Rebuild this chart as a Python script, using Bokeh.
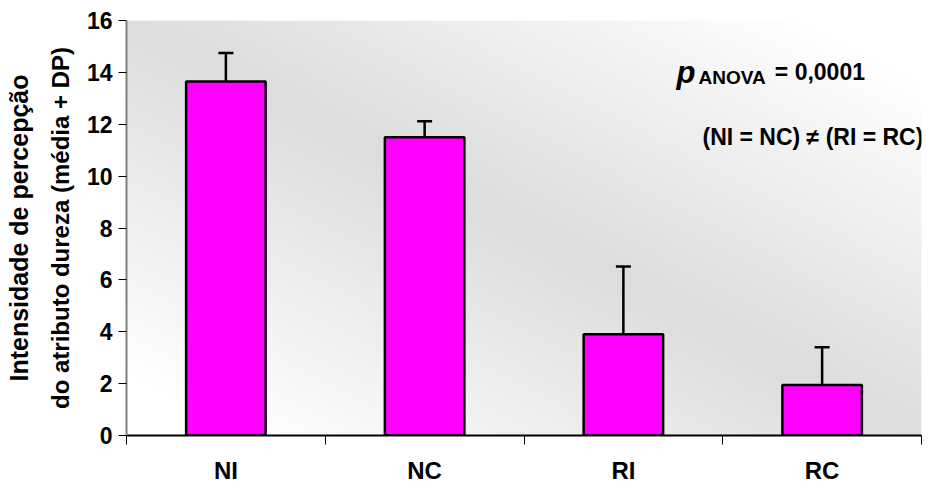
import numpy as np
from bokeh.plotting import figure
from bokeh.models import (ColumnDataSource, Range1d, FactorRange, LinearAxis, FixedTicker,
                          Whisker, TeeHead, Label, Title)
from bokeh.embed import file_html
from bokeh.resources import INLINE

# ---- data ----
categories = ["NI", "NC", "RI", "RC"]
means = [13.65, 11.5, 3.9, 1.95]
sds = [1.1, 0.62, 2.62, 1.45]
y_ticks = [0, 2, 4, 6, 8, 10, 12, 14, 16]

FONT = "Liberation Sans"
n = len(categories)

p = figure(width=926, height=486, output_backend="svg", toolbar_location=None,
           x_range=FactorRange(*categories), y_range=Range1d(0, 16),
           x_axis_location=None, y_axis_location=None,
           min_border_left=126, min_border_right=5, min_border_top=20, min_border_bottom=49)
p.outline_line_color = None
p.xgrid.visible = False
p.ygrid.visible = False
p.background_fill_color = "white"
p.border_fill_color = "white"

# ---- gradient background (style only; synthetic x coords 0..n) ----
H, W = 210, 400
rows = (np.arange(H) + 0.5) / H
cols = (np.arange(W) + 0.5) / W
u = cols[None, :]
vdown = 1.0 - rows[:, None]
t = np.abs(u - vdown)
g = (221 + 34 * np.clip(t / 0.85, 0, 1)).astype(np.uint8)
img = np.empty((H, W), dtype=np.uint32)
view = img.view(dtype=np.uint8).reshape((H, W, 4))
view[:, :, 0] = g
view[:, :, 1] = g
view[:, :, 2] = g
view[:, :, 3] = 255
p.image_rgba(image=[img], x=0, y=0, dw=n, dh=16, level="underlay")

# ---- bars ----
src = ColumnDataSource(dict(x=categories, top=means,
                            upper=[m + s for m, s in zip(means, sds)]))
p.vbar(x="x", top="top", width=0.4, source=src, fill_color="#FF00FF",
       line_color="black", line_width=2.5)
wh = Whisker(source=src, base="x", lower="top", upper="upper", dimension="height",
             line_color="black", line_width=2.5,
             upper_head=TeeHead(size=15, line_color="black", line_width=2.5),
             lower_head=None)
p.add_layout(wh)

# ---- axes ----
yax = LinearAxis(ticker=FixedTicker(ticks=y_ticks))
yax.axis_line_color = "#808080"
yax.axis_line_width = 2
yax.major_tick_line_color = "black"
yax.major_tick_out = 8
yax.major_tick_in = 0
yax.minor_tick_line_color = None
yax.major_label_text_font = FONT
yax.major_label_text_font_style = "bold"
yax.major_label_text_font_size = "23px"
yax.major_label_text_color = "black"
yax.major_label_standoff = 6
p.add_layout(yax, "left")

centers = [i + 0.5 for i in range(n)]
bounds = [float(i) for i in range(n + 1)]
xax = LinearAxis(ticker=FixedTicker(ticks=centers, minor_ticks=bounds))
xax.major_label_overrides = {c: lab for c, lab in zip(centers, categories)}
xax.axis_line_color = "black"
xax.axis_line_width = 2
xax.major_tick_line_color = None
xax.major_tick_out = 0
xax.major_tick_in = 0
xax.minor_tick_line_color = "black"
xax.minor_tick_out = 9
xax.minor_tick_in = 0
xax.major_label_text_font = FONT
xax.major_label_text_font_style = "bold"
xax.major_label_text_font_size = "24px"
xax.major_label_text_color = "black"
xax.major_label_standoff = 12
p.add_layout(xax, "below")

# ---- y axis title (two rotated lines) ----
t2 = Title(text="do atributo dureza (média + DP)", align="center", text_font=FONT,
           text_font_style="bold", text_font_size="24px", standoff=20, text_color="black")
p.add_layout(t2, "left")
t1 = Title(text="Intensidade de percepção", align="center", text_font=FONT,
           text_font_style="bold", text_font_size="25px", standoff=3, text_color="black")
p.add_layout(t1, "left")

# ---- annotations ----
def lab(**kw):
    base = dict(text_font=FONT, text_font_style="bold", text_color="black",
                text_baseline="alphabetic")
    base.update(kw)
    p.add_layout(Label(**base))

lab(x=2.767, y=13.98, text="p", text_font_style="bold italic", text_font_size="31px")
lab(x=2.878, y=13.82, text="ANOVA", text_font_size="19px")
lab(x=3.262, y=14.02, text="= 0,0001", text_font_size="23px")
lab(x=2.898, y=11.51, text="(NI = NC) \u2260 (RI = RC)", text_font_size="23px")

open("out.html", "w").write(file_html(p, INLINE))
